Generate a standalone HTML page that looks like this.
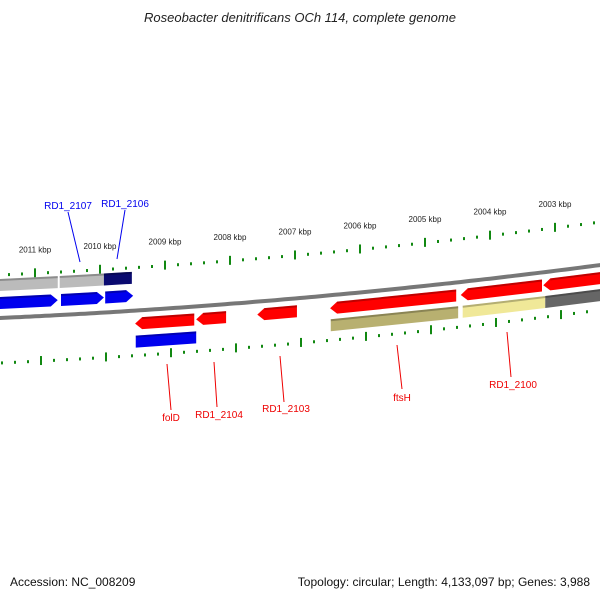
<!DOCTYPE html>
<html><head><meta charset="utf-8"><style>
body{margin:0;background:#fff}
svg{display:block;font-family:"Liberation Sans","DejaVu Sans",sans-serif}
</style></head><body>
<svg id="c" width="600" height="600" viewBox="0 0 600 600">
<text x="300" y="22" text-anchor="middle" font-size="13" font-style="italic" fill="#222">Roseobacter denitrificans OCh 114, complete genome</text>
<text x="10" y="586" font-size="12" fill="#111">Accession: NC_008209</text>
<text x="590" y="586" font-size="12" fill="#111" text-anchor="end">Topology: circular; Length: 4,133,097 bp; Genes: 3,988</text>
<g id="g"></g>
</svg>
<script>
const tickKbp=[2011,2010,2009,2008,2007,2006,2005,2004,2003];
// genes: start/end kbp, track offset, strand, color
const geneStart=[2011.6,2010.62,2009.94, 2011.6,2010.6,2009.92, 2009.46,2008.52,2007.58,2006.46,2004.45,2003.18, 2009.45,2006.45,2004.42,2003.15];
const geneEnd  =[2010.65,2009.94,2009.51, 2010.65,2009.94,2009.49, 2008.55,2008.06,2006.97,2004.52,2003.2,2002.3, 2008.52,2004.49,2003.15,2002.3];
const geneTrack=[-33,-33,-33, -15,-15,-15, 13,13,13,13,13,13, 31,30,30,30];
const geneDir  =[0,0,0, 1,1,1, -1,-1,-1,-1,-1,-1, 0,0,0,0];
const geneColor=["#bbb","#bbb","#0a0a70","#0000ee","#0000ee","#0000ee","#f00","#f00","#f00","#f00","#f00","#f00","#0000ee","#b8b070","#f0e898","#666"];
const labels=["RD1_2107","RD1_2106","folD","RD1_2104","RD1_2103","ftsH","RD1_2100"];
const labelX=[68,125,171,219,286,402,513];
const labelY=[209,207,421,418,412,401,388];
const lineFrom=[[68,212],[125,210],[167,364],[214,362],[280,356],[397,345],[507,332]];
const lineTo=[[80,262],[117,259],[171,410],[217,407],[284,402],[402,389],[511,377]];
const labelColor=["#00e","#00e","#e00","#e00","#e00","#e00","#e00"];

const NS="http://www.w3.org/2000/svg",G=document.getElementById('g');
const X=k=>100+(2010-k)*65;
const Y=(x,d)=>318-0.045*x-7.2e-5*x*x+d;
function mk(t,a){const e=document.createElementNS(NS,t);for(const k in a)e.setAttribute(k,a[k]);G.appendChild(e);return e;}
let p="";for(let x=-5;x<=605;x+=5)p+=(x<0?"M":"L")+x+","+Y(x,0).toFixed(1);
let bb=mk("path",{d:p,stroke:"#777",fill:"none","stroke-width":4});


for(let k=2012;k>=2002;k-=0.2){
  const kr=Math.round(k*5)/5, major=Math.abs(kr-Math.round(kr))<0.01;
  [[-43,0],[45,6]].forEach(([d,sh])=>{
    const x=X(kr)+sh; if(x<2||x>598)return;
    const y=Y(x,d);
    const t=mk("line",{x1:x,x2:x,y1:major?y-5:y-1.5,y2:major?y+4:y+1.5,stroke:"#118811","stroke-width":2});
    
    
  });
}
tickKbp.forEach(k=>{const x=X(k);const t=mk("text",{x:x,y:Y(x,-64),"font-size":8,"text-anchor":"middle",fill:"#222"});t.textContent=k+" kbp";

});
geneStart.forEach((s,i)=>{
  let x1=X(s),x2=X(geneEnd[i]);if(x1>x2)[x1,x2]=[x2,x1];
  const d=geneTrack[i],h=6,dir=geneDir[i],ah=7;
  const a=dir<0?x1+ah:x1,b=dir>0?x2-ah:x2;
  let pts=[[a,Y(a,d-h)],[b,Y(b,d-h)]];
  if(dir>0)pts.push([x2,Y(x2,d)]);
  pts.push([b,Y(b,d+h)],[a,Y(a,d+h)]);
  if(dir<0)pts.push([x1,Y(x1,d)]);
  const e=mk("polygon",{points:pts.map(q=>q.join(",")).join(" "),fill:geneColor[i]});
  
  
  const sh=mk("path",{d:`M${a},${Y(a,d-h+1)}L${b},${Y(b,d-h+1)}`,stroke:"rgba(0,0,0,0.25)","stroke-width":2});
  
  
});
labels.forEach((l,i)=>{
  const ln=mk("line",{x1:lineFrom[i][0],y1:lineFrom[i][1],x2:lineTo[i][0],y2:lineTo[i][1],stroke:labelColor[i],"stroke-width":1});
  
  
  const t=mk("text",{x:labelX[i],y:labelY[i],"font-size":10,"text-anchor":"middle",fill:labelColor[i]});t.textContent=l;
  
  
});
</script>
</body></html>
